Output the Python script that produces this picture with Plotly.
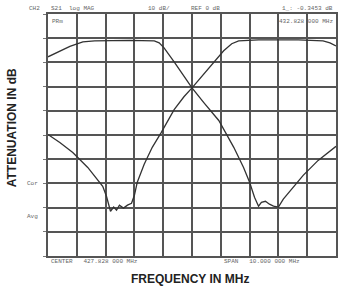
import plotly.graph_objects as go

# Frequency axis: center 427.828 MHz, span 10 MHz
freq_a = [422.828, 423.238, 423.588, 424.038, 424.448, 425.658, 426.518, 426.688, 426.858,
          427.208, 427.548, 427.828, 428.238, 428.758, 429.278, 429.618, 429.828, 429.998,
          430.138, 430.238, 430.378, 430.518, 430.658, 430.828, 430.998, 431.348, 431.688,
          432.208, 432.828]
atten_a = [-17.7, -15.2, -13.4, -11.5, -11.1, -10.9, -11.1, -11.9, -14.0,
           -19.8, -25.9, -30.5, -36.6, -44.0, -55.1, -63.4, -69.5, -75.7,
           -79.4, -77.8, -77.4, -78.6, -79.4, -79.8, -76.5, -71.6, -66.7,
           -60.5, -54.7]

freq_b = [422.828, 423.238, 423.688, 424.208, 424.728, 424.858, 424.998, 425.108, 425.208,
          425.308, 425.448, 425.588, 425.728, 425.828, 425.928, 426.168, 426.448, 426.758,
          427.208, 427.548, 427.828, 428.238, 428.588, 428.928, 429.208, 429.448, 430.138,
          431.518, 432.378, 432.618, 432.828]
atten_b = [-49.8, -53.1, -57.2, -63.4, -71.2, -75.3, -81.5, -79.8, -81.1,
           -79.0, -80.2, -79.0, -78.2, -74.9, -69.5, -62.1, -55.1, -49.0,
           -39.5, -34.2, -30.5, -24.7, -19.8, -15.2, -12.3, -11.1, -10.7,
           -10.7, -11.1, -11.9, -13.2]

header_left = "CH2"
header_mode = "S21  log MAG"
header_scale = "10 dB/"
header_ref = "REF 0 dB"
marker_val = "1_: -0.3453 dB"
marker_freq = "432.828 000 MHz"
sub_label = "PRm"
center_txt = "CENTER   427.828 000 MHz"
span_txt = "SPAN   10.000 000 MHz"
side_labels = ["Cor", "Avg"]

fig = go.Figure()
for f, a in [(freq_a, atten_a), (freq_b, atten_b)]:
    fig.add_trace(go.Scatter(x=f, y=a, mode="lines",
                             line=dict(color="#333333", width=1.3),
                             showlegend=False, hoverinfo="skip"))

L, R, T, B = 48, 1, 14, 32
W, H = 339, 288
pw, ph = W - L - R, H - T - B

def px(x):
    return (x - L) / pw

def py(y):
    return (H - B - y) / ph

small = dict(family="Liberation Mono", size=6, color="#666666")
ann = []
def t(x, y, s, anchor="left", font=small):
    ann.append(dict(x=px(x), y=py(y), xref="paper", yref="paper", text=s,
                    showarrow=False, xanchor=anchor, yanchor="middle", font=font))

t(27, 9, header_left)
t(49, 9, header_mode)
t(147, 9, header_scale)
t(190, 9, header_ref)
t(337, 9, marker_val, "right")
t(50, 21, sub_label)
t(337, 21, marker_freq, "right")
t(49, 261, center_txt)
t(223, 261, span_txt)
t(25, 183, side_labels[0])
t(25, 216, side_labels[1])

title_font = dict(family="Liberation Sans", size=12, color="#222222")
ann.append(dict(x=px(191), y=py(279), xref="paper", yref="paper",
                text="<b>FREQUENCY IN MHz</b>", showarrow=False,
                xanchor="center", yanchor="middle", font=title_font))
ann.append(dict(x=px(12), y=py(128), xref="paper", yref="paper",
                text="<b>ATTENUATION IN dB</b>", showarrow=False, textangle=-90,
                xanchor="center", yanchor="middle", font=title_font))

fig.update_layout(
    width=W, height=H,
    margin=dict(l=L, r=R, t=T, b=B),
    paper_bgcolor="white", plot_bgcolor="white",
    annotations=ann,
    xaxis=dict(range=[422.828, 432.828], dtick=1, tick0=422.828,
               showgrid=True, gridcolor="#555555", gridwidth=1.5,
               showticklabels=False, zeroline=False,
               showline=True, linecolor="#555555", linewidth=1.5, mirror=True),
    yaxis=dict(range=[-100, 0], dtick=10, tick0=0,
               showgrid=True, gridcolor="#555555", gridwidth=1.5,
               showticklabels=False, zeroline=False,
               ticks="outside", ticklen=3, tickcolor="#777777", tickwidth=1,
               showline=True, linecolor="#555555", linewidth=1.5, mirror=True),
)

fig.write_html("out.html", config={"displayModeBar": False},
               post_script="document.body.style.margin='0';document.body.style.overflow='hidden';")
